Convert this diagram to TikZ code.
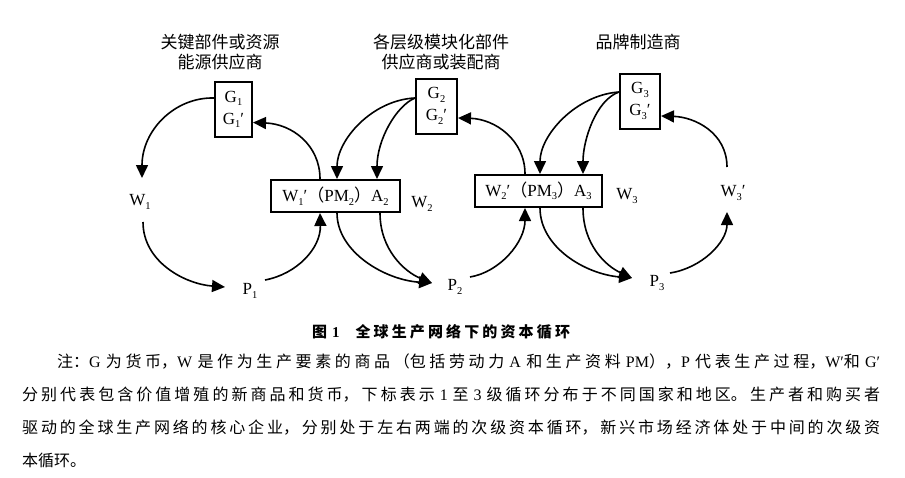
\documentclass[tikz,border=0pt]{standalone}
\usepackage{fontspec}
\setmainfont{Liberation Serif}
\newfontfamily\cjk{Noto Sans CJK SC}
\usetikzlibrary{arrows.meta,calc}
\XeTeXlinebreaklocale "zh"
\XeTeXlinebreakskip=0pt plus 4pt
\hbadness=10000
\newcommand\lsub[1]{\raisebox{-3.5pt}{\fontsize{10.5}{10.5}\selectfont #1}}
\newcommand\la[1]{{\rmfamily #1}}
\newcommand\jline[2]{\parbox{#1}{\tolerance=10000\parfillskip=0pt\relax\noindent #2}}
\tikzset{
  arr/.style={line width=1.6pt,-{Triangle[length=13pt,width=12pt]}},
  gbox/.style={draw,line width=2pt,fill=white,minimum width=#1,minimum height=55pt,align=center,inner sep=0pt},
  bbox/.style={draw,line width=2pt,fill=white,minimum width=#1,minimum height=32pt,inner sep=0pt},
  lbl/.style={inner sep=0pt},
  toplab/.style={align=center,inner sep=0pt,font=\cjk\fontsize{17}{20}\selectfont},
  notes/.style={anchor=west,inner sep=0pt,font=\cjk\fontsize{16}{16}\selectfont}
}
\begin{document}
\begin{tikzpicture}[x=1pt,y=-1pt,font=\fontsize{17}{22}\selectfont]
\useasboundingbox (0,0) rectangle (905,477);
\fill[white] (0,0) rectangle (905,477);

% top labels
\node[toplab] (L1) at (220,52) {关键部件或资源\\能源供应商};
\node[toplab] (L2) at (441,52) {各层级模块化部件\\供应商或装配商};
\node[toplab] (L3) at (638,42) {品牌制造商};

% boxes
\node[gbox=37pt] (G1) at (233.5,109.5) {G\lsub{1}\\G\lsub{1}′};
\node[gbox=41pt] (G2) at (436.5,106) {G\lsub{2}\\G\lsub{2}′};
\node[gbox=40pt] (G3) at (640,101) {G\lsub{3}\\G\lsub{3}′};
\node[bbox=129pt] (B1) at (335.5,196) {W\lsub{1}′{\cjk （}PM\lsub{2}{\cjk ）}A\lsub{2}};
\node[bbox=127pt] (B2) at (538.5,191) {W\lsub{2}′{\cjk （}PM\lsub{3}{\cjk ）}A\lsub{3}};

% labels
\node[lbl] (W1) at (140,202) {W\lsub{1}};
\node[lbl] (P1) at (250,291) {P\lsub{1}};
\node[lbl] (W2) at (422,204) {W\lsub{2}};
\node[lbl] (P2) at (455,287) {P\lsub{2}};
\node[lbl] (W3) at (627,196) {W\lsub{3}};
\node[lbl] (W3p) at (733,193) {W\lsub{3}′};
\node[lbl] (P3) at (657,283) {P\lsub{3}};

% connectors
\draw[arr] ($(G1.west)+(0,-11.5)$) .. controls (175,97) and (142,130) .. ($(W1)+(2,-24)$);
\draw[arr] ($(W1)+(3,20)$) .. controls (143,262) and (185,284) .. ($(P1)+(-25,-4)$);
\draw[arr] ($(P1)+(15,-11)$) .. controls (297,274) and (321,248) .. ($(B1.south)+(-15.5,0)$);
\draw[arr] ($(B1.north)+(-15.5,0)$) .. controls (320,145) and (292,124) .. ($(G1.east)+(0,13)$);
\draw[arr] ($(G2.west)+(0,-8)$) .. controls (372,100) and (337,140) .. ($(B1.north)+(1.5,0)$);
\draw[arr] ($(G2.west)+(0,-8)$) .. controls (396,106) and (377,140) .. ($(B1.north)+(41.5,0)$);
\draw[arr] ($(B1.south)+(1.5,0)$) .. controls (337,252) and (385,280) .. ($(P2)+(-23,-4)$);
\draw[arr] ($(B1.south)+(44.5,0)$) .. controls (380,250) and (405,272) .. ($(P2)+(-23,-4)$);
\draw[arr] ($(P2)+(15,-10)$) .. controls (500,272) and (525,242) .. ($(B2.south)+(-13.5,0)$);
\draw[arr] ($(B2.north)+(-13.5,0)$) .. controls (525,140) and (495,119) .. ($(G2.east)+(0,12)$);
\draw[arr] ($(G3.west)+(0,-9)$) .. controls (576,95) and (540,135) .. ($(B2.north)+(1.5,0)$);
\draw[arr] ($(G3.west)+(0,-9)$) .. controls (596,100) and (583,140) .. ($(B2.north)+(44.5,0)$);
\draw[arr] ($(B2.south)+(1.5,0)$) .. controls (540,247) and (585,274) .. ($(P3)+(-25,-5)$);
\draw[arr] ($(B2.south)+(44.5,0)$) .. controls (583,245) and (606,266) .. ($(P3)+(-25,-5)$);
\draw[arr] ($(P3)+(13,-10)$) .. controls (702,268) and (727,242) .. ($(W3p)+(-6,19)$);
\draw[arr] ($(W3p)+(-6,-26)$) .. controls (727,133) and (695,117) .. ($(G3.east)+(0,15)$);

% caption and notes
\node[inner sep=0pt,font=\cjk\bfseries\fontsize{15}{15}\selectfont] (cap) at (441,332)
  {\jline{258pt}{图\hspace{5pt}\la{\bfseries 1}\hspace{16pt}全球生产网络下的资本循环}};
\node[notes] (n1) at (57,362) {\jline{823pt}{注：\la{G} 为货币，\la{W} 是作为生产要素的商品（包括劳动力 \la{A} 和生产资料 \la{PM}），\la{P} 代表生产过程，\la{W′}和 \la{G′}}};
\node[notes] (n2) at (22,395) {\jline{858pt}{分别代表包含价值增殖的新商品和货币，下标表示 \la{1} 至 \la{3} 级循环分布于不同国家和地区。生产者和购买者}};
\node[notes] (n3) at (22,428) {\jline{858pt}{驱动的全球生产网络的核心企业，分别处于左右两端的次级资本循环，新兴市场经济体处于中间的次级资}};
\node[notes] (n4) at (22,460) {本循环。};
\end{tikzpicture}
\end{document}
